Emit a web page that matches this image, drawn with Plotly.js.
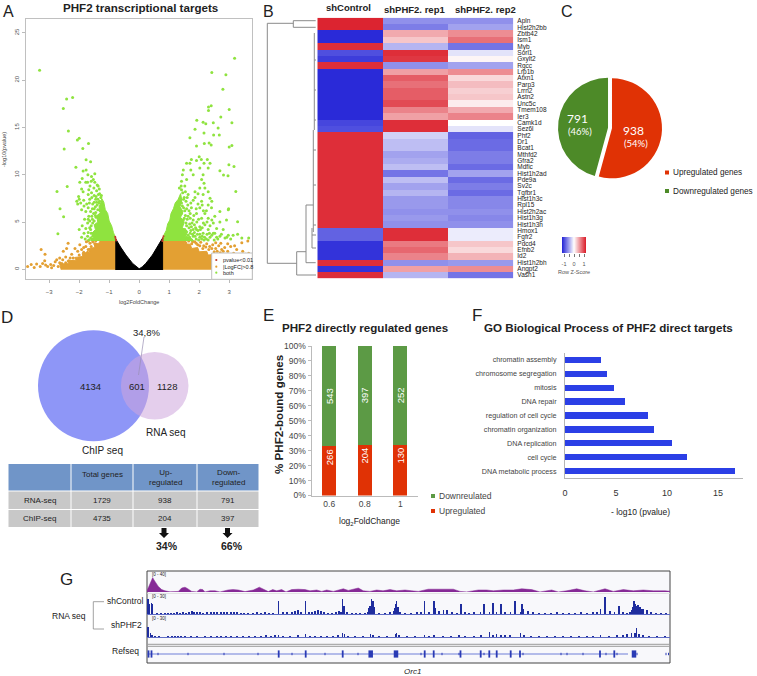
<!DOCTYPE html>
<html>
<head>
<meta charset="utf-8">
<script src="https://cdn.plot.ly/plotly-3.0.1.min.js"></script>
<style>html,body{margin:0;padding:0;background:#fff}</style>
</head>
<body>
<div id="fig" style="width:757px;height:676px"></div>
<script>
// Panel A - volcano
const blackEdge = [[-0.78,-0.08],[-0.78,3.2],[-0.62,2.35],[-0.44,1.5],[-0.22,0.62],[-0.1,0.25],[0,0.05],[0.1,0.25],[0.22,0.62],[0.44,1.5],[0.62,2.4],[0.78,3.3],[0.78,-0.08]];
const redTips = [[-0.79,3.3],[-0.8,3.45],[-0.78,3.15],[-0.77,3.05],[0.79,3.3],[0.81,3.5],[0.78,3.1],[0.77,3.0]];
const orangeLeftDense = [[-0.78,-0.05],[-0.78,3],[-1.3,3],[-1.36,2.7],[-1.5,2.75],[-1.48,2.3],[-1.68,2.2],[-1.65,1.8],[-1.9,1.7],[-1.88,1.35],[-2.15,1.25],[-2.1,0.95],[-2.4,0.9],[-2.35,0.6],[-2.65,0.55],[-2.6,-0.05]];
const orangeRightDense = [[0.78,-0.05],[0.78,3],[1.55,3],[1.5,2.7],[1.7,2.65],[1.75,2.2],[1.95,2.3],[2,1.85],[2.25,1.9],[2.3,1.5],[2.55,1.6],[2.6,1.2],[3,1.1],[3.05,0.7],[3.77,0.6],[3.77,-0.05]];
const greenLeftDense = [[-0.78,3],[-0.8,3.4],[-0.86,3.9],[-0.92,4.6],[-1,5.1],[-1.05,5.9],[-1.13,6.3],[-1.18,7.1],[-1.25,7.5],[-1.28,7],[-1.34,6.6],[-1.3,6],[-1.42,5.6],[-1.38,5],[-1.5,4.7],[-1.46,4.2],[-1.58,3.8],[-1.52,3.4],[-1.62,3]];
const greenRightDense = [[0.78,3],[0.82,3.6],[0.9,4.1],[0.95,4.8],[1.02,5.2],[1.06,5.9],[1.14,6.4],[1.2,7],[1.3,7.4],[1.38,8],[1.42,7.3],[1.36,6.6],[1.46,6.1],[1.38,5.5],[1.5,5],[1.44,4.4],[1.62,4],[1.55,3.5],[1.72,3.3],[1.82,3]];
const greenPts = [[-3.32,21.06],[-2.22,18.16],[-2.42,18],[-2.53,17],[-2.36,14.63],[-2,13.85],[-2.06,13.67],[-1.69,13.3],[-2.5,12.72],[-1.88,12.76],[-2.11,10.78],[-1.77,11.59],[-1.62,11.38],[-2.4,8.76],[-2.74,8.23],[-2.64,6.4],[-2.52,5.55],[-2.71,3.75],
[-1.77,10.5],[-1.87,10.4],[-1.71,10],[-1.48,10.1],[-1.9,9.6],[-1.59,9.8],[-1.98,9.2],[-1.78,9.2],[-1.53,9.5],[-1.48,9.2],[-1.64,8.8],[-1.51,8.6],[-1.37,8.8],[-1.87,8.2],[-1.59,8.1],[-1.42,8.3],[-1.33,8.5],[-1.7,7.9],[-1.5,7.8],[-1.36,7.9],[-1.26,7.8],[-2,7.4],[-1.85,7.3],[-1.65,7.4],[-1.45,7.4],[-1.32,7.2],[-2.05,6.9],[-1.95,7],[-1.75,6.9],[-1.55,6.9],[-1.4,6.8],[-1.25,6.9],[-1.7,6.5],[-1.5,6.4],[-1.62,6.1],[-1.45,6],[-1.3,6.2],[-1.2,6.4],[-1.58,5.6],[-1.44,5.5],[-1.35,5.7],[-1.82,5.3],[-1.65,5.1],[-1.55,4.9],[-1.9,4.6],[-2,4.2],[-1.78,4.3],[-1.65,4.4],[-1.6,3.8],[-1.72,3.5],[-1.8,3.2],[-1.62,3.3],[-1.55,3.5],[-1.6,4.6],[-1.5,5.1],[-1.56,6.4],[-1.66,7],[-1.42,7.1],[-1.58,7.6],
[-1.4,8.9],[-1.32,8],[-1.44,7.7],[-1.28,7.6],[-1.38,7.4],[-1.5,7.1],[-1.34,7],[-1.46,6.6],[-1.38,6.3],[-1.52,5.9],[-1.46,5.7],[-1.56,5.3],[-1.68,5.6],[-1.72,4.9],[-1.62,4.2],[-1.7,3.9],[-1.84,3.8],[-1.92,3.4],[-1.68,3.1],[-1.58,3.15],[-2.02,7.7],[-1.92,8.5],[-1.68,8.4],[-1.72,9.2],[-1.6,9.3],[-1.92,6.3],[-1.84,6.7],[-1.78,6.1],[-1.7,5.3],[-2.08,7.2],
[3.18,22.33],[2.42,20.81],[2.89,20.56],[2.79,19.05],[2.4,17.3],[2.31,17.17],[2.31,16.8],[3,16.9],[2.72,16.1],[1.92,15.76],[1.86,14.8],[2.13,15.55],[2.22,15.4],[2.47,15.5],[3.09,15.5],[2.63,14.95],[2.16,14.4],[2.48,14.2],[2.67,14.2],[1.69,13.9],[2.33,13.36],[2.17,13.3],[2.4,13.15],[1.91,13.04],[3.09,13.1],[3,12.93],[2.99,11.06],[3.16,10.88],[2.69,10.42],[2.81,9.96],[2.96,9.9],[3.22,8.23],[2.98,6.4],[3.28,5.02],
[1.69,11.2],[1.74,11.6],[2,11.9],[1.91,11.5],[2.07,11.6],[2.27,11.6],[2.36,11.2],[2.16,11.2],[1.58,11.2],[1.47,10.5],[1.72,10.5],[2.02,10.7],[2.3,10.7],[1.44,10],[1.8,10],[2.13,10],[1.41,9.3],[1.58,9.5],[2.08,9.5],[2.16,9.1],[2.02,8.6],[2.19,8.6],[1.52,8.8],[1.41,8.4],[1.86,8.2],[2.3,8.2],[2.13,7.9],[1.63,7.9],[2.36,7.5],[1.8,7.3],[2.08,7.2],[2.42,7.2],[2.3,6.8],[1.74,6.5],[2.02,6.5],[2.41,6.5],[2.69,6.1],[2.97,6.3],[1.91,5.9],[2.19,5.9],[2.52,5.6],[1.63,5.6],[1.8,5.2],[2.08,5.4],[2.3,5.4],[2.91,5.2],[2.69,5],[2.47,4.9],[2.02,4.5],[2.19,4.7],[1.74,4.5],[1.91,4.2],[2.3,4.2],[2.58,4.3],[2.47,3.8],[2.8,4.2],[2.97,3.6],[3.13,3.6],[3.28,3.7],[2.69,3.5],[2.13,3.8],[1.52,4.2],[1.63,3.6],[1.8,3.5],[2.02,3.4],[2.36,3.4],[2.58,3.4],[2.86,3.3],[1.41,5.9],[1.41,7],[1.47,5.2],[1.24,6.6],[1.36,7.3],[1.52,6.2],[1.62,6.8],[1.7,5.9],[1.5,7.6],[1.56,4.9],[1.66,4.4],[1.84,3.9],[2.24,3.2],[2.5,3.1],[3.05,3.2],[3.42,3.3],[3.65,3.3],
[1.45,8.1],[1.4,8.8],[1.34,8.6],[1.48,7.4],[1.56,7.2],[1.44,6.7],[1.48,6.5],[1.58,6.4],[1.66,6.2],[1.54,5.7],[1.6,5.3],[1.7,5.4],[1.5,5.4],[1.58,4.6],[1.68,4.8],[1.76,4.9],[1.84,4.7],[1.92,5],[1.98,5.3],[1.72,4.1],[1.8,4.2],[1.88,4.4],[1.96,4.1],[2.04,4.2],[2.1,4.4],[1.7,3.8],[1.78,3.7],[1.86,3.5],[1.94,3.7],[2.02,3.7],[2.1,3.5],[2.18,3.4],[2.26,3.7],[2.34,3.8],[2.42,3.6],[2.52,3.8],[2.62,3.2],[2.74,3.7],[2.92,3.4],[1.9,3.2],[1.98,3.1],[2.08,3.2],[2.16,3.1],[2.3,3.1],[1.75,3.1],[1.6,3.2],[1.68,3.4],[1.82,5.7],[1.9,6.4],[1.96,6.9],[1.86,7.6],[1.96,8],[2.1,6.8],[2.14,6.2],[2.24,6.2],[2.26,5],[2.36,4.6],[2.42,5.2],[2.14,4.9],[1.72,7],[1.6,7.6],[1.54,8.2]];
const orangePts = [[-3.6,0.5],[-3.72,0.3],[-3.42,0.55],[-3.3,0.3],[-3.22,0.6],[-3.15,0.9],[-3.05,0.3],[-2.95,0.5],[-2.85,0.4],[-2.75,1],[-2.65,0.7],[-3.27,2.1],[-3.14,1.6],[-2.37,2.75],[-2.42,2.2],[-2.53,1.9],[-2.14,2.2],[-1.98,2.6],[-1.7,3],[-1.64,2.75],[-1.76,2.9],[-1.55,2.9],[-1.6,2.4],[-1.85,2.3],[-2.05,1.9],[-2.25,1.6],[-2.45,1.3],[-2.65,1.2],[-2.8,0.8],[-2.58,0.6],[-2.7,0.3],[-2.2,1.2],[-2,1.5],[-1.85,1.8],[-1.7,2.1],[-1.48,2.7],[-1.45,3],[-3.5,0.2],[-3.12,0.45],[-2.92,0.15],[-2.35,0.9],[-2.45,0.7],[-1.92,1.2],[-1.72,1.8],[-1.78,2.4],[-1.92,2.1],[-2.3,1.2],[-2.55,1],
[1.35,2.9],[1.45,2.95],[1.55,2.8],[1.65,3],[1.75,2.7],[1.85,2.9],[1.95,2.6],[2.05,2.85],[2.15,2.5],[2.25,2.7],[2.35,2.4],[2.45,2.6],[2.55,2.2],[2.65,2.5],[2.75,2.1],[2.85,2.3],[2.95,1.9],[3.05,2.4],[3.15,1.7],[3.25,2.1],[3.35,1.5],[3.45,1.9],[3.55,1.6],[3.65,1.7],[3.7,0.9],
[1.78,2.95],[1.9,2.75],[2.02,2.5],[2.12,2.2],[2.22,2.35],[2.32,2.1],[2.42,2.2],[2.5,1.85],[2.6,1.9],[2.7,1.75],[2.8,1.9],[2.8,1.4],[2.9,1.5],[3,1.3],[3.1,1.6],[3.2,1.1],[3.3,0.9],[3.4,1.15],[3.52,0.8],[3.62,1.1],[3.18,2.5],[3.42,2.8],[3.62,3],[2.95,2.7],[2.72,2.75],[2.55,2.8]];

// Panel B - heatmap rows
const geneRows = ['Apln','Hist2h2bb','Zbtb42','Ism1','Myb','Sorl1','Gxylt2','Rgcc','Lrp1b','Atxn1','Parp3','Lrrn2','Astn2','Unc5c','Tmem108','Ier3','Camk1d','Sez6l','Phf2','Dr1','Bcat1','Mthfd2','Gfra2','Mdfic','Hist1h2ad','Pde9a','Sv2c','Tgfbr1','Hist1h3c','Rpl15','Hist2h2ac','Hist1h3g','Hist1h3h','Hmox1','Fgfr2','Pdcd4','Efnb2','Id2','Hist1h2bh','Angpt2','Vash1'];
const heatCols = ['shControl','shPHF2. rep1','shPHF2. rep2'];
const ctrlZ = [1.15,1.15,-1.15,-1.15,1.1,-0.95,-1.05,1.1,-1.15,-1.15,-1.15,-1.15,-1.15,-1.15,-1.15,-1.15,-1,-0.95,1.1,1.1,1.1,1.1,1.1,1.1,1.1,1.1,1.1,1.1,1.1,1.1,1.1,1.1,1.1,-0.85,-0.85,-1.1,-1.1,-1.1,1.1,-1.1,1.1];
const rep1Z = [-0.6,-0.7,0.45,0.3,-0.4,1.1,1.05,-0.6,0.5,0.85,0.75,0.85,0.85,0.95,0.65,0.5,1.1,1.1,-0.25,-0.35,-0.35,-0.5,-0.45,-0.35,-0.75,-0.35,-0.5,-0.4,-0.55,-0.55,-0.6,-0.55,-0.6,1.1,1.1,0.7,0.8,0.65,-0.6,0.5,-0.4];
const rep2Z = [-0.6,-0.5,0.6,0.75,-0.75,-0.15,0.05,-0.5,0.6,0.2,0.35,0.25,0.3,0.1,0.45,0.65,0,-0.15,-0.85,-0.8,-0.8,-0.7,-0.7,-0.8,-0.5,-0.8,-0.7,-0.8,-0.65,-0.65,-0.6,-0.65,-0.6,-0.1,-0.1,0.3,0.2,0.4,-0.55,0.6,-0.75];
const keyZ = [-1.15,-1.05,-0.95,-0.85,-0.75,-0.65,-0.55,-0.45,-0.35,-0.25,-0.15,-0.05,0.05,0.15,0.25,0.35,0.45,0.55,0.65,0.75,0.85,0.95,1.05,1.15];
const heatScale = [[0,'#2a2ad8'],[0.5,'#ffffff'],[1,'#dc2430']];
// dendrogram, drawn in its own hidden axis
const dendX = [267.3,293.3,null,293.3,315.7,null,293.3,293.3,null,293.3,315.7,null,267.3,267.3,null,267.3,296.7,null,296.7,296.7,null,296.7,316,null,296.7,306,null,306,306,null,306,315.7,null,306,313.3,null,313.3,313.3,null,314.3,314.3,null,313.3,316,null,313.3,316,null,313.3,316,null,314.3,316,null,314.3,316,null,314.3,316,null,312,316,null,312,312,null,312,316];
const dendY = [23.3,23.3,null,20.7,20.7,null,20.7,27.3,null,27.3,27.3,null,23.3,263.3,null,263.3,263.3,null,251.7,275,null,275,275,null,251.7,251.7,null,205,262.7,null,262.7,262.7,null,205,205,null,130,232,null,33,130,null,150,150,null,185,185,null,225,225,null,60,60,null,90,90,null,120,120,null,235,235,null,228,248,null,248,248];

// Panel C
const pieLabels = ['Upregulated genes','Downregulated genes'];
const pieValues = [938,791];

// Panel D table
const tableHead = ['Total genes','Up-<br>regulated','Down-<br>regulated'];
const tableRows = ['RNA-seq','ChIP-seq'];
const tableTotal = ['1729','4735'];
const tableUp = ['938','204'];
const tableDown = ['791','397'];

// Panel E
const foldCats = ['0.6','0.8','1'];
const upCounts = [266,204,130];
const downCounts = [543,397,252];

// Panel F
const goTerms = ['chromatin assembly','chromosome segregation','mitosis','DNA repair','regulation of cell cycle','chromatin organization','DNA replication','cell cycle','DNA metabolic process'];
const goValues = [3.5,4.1,4.8,5.85,8.15,8.75,10.5,12,16.7];

// Panel G tracks, x runs along the locus
const purpleX = [0,1.7,3,4.7,5.7,7,9,11.3,14.7,18,23,31.3,34.7,38,40.3,44.7,49.7,53,55.7,58,63,68,73,81,86,91.3,98,106.3,112.3,116.3,121.3,125.7,129.7,134.7,139,144.7,151.3,158,163,169.7,174.7,179.7,186.3,196.3,201.3,211.3,216.3,223,229.7,236,243,249.7,258,264.7,271.3,281.3,289.7,298,306.3,313,319.7,331.3,339.7,346.3,356.3,366.3,374.7,384.7,393,404.7,411.3,419.7,429.7,438,446.3,458,466.3,476.3,486.3,496.3,506.3,518,523];
const purpleV = [3,12,22,32,36,30,22,14,6,3,0.5,1.5,10,12,9,1.5,0.3,7,6,0.3,3,3,0.2,5,6,5,1,5,12,8,1,6,3,6,0.3,6,7,6,3,5,1.5,5,1.5,8,4,10,3,1.5,5,3,6,3,5,3,1.5,7,7,6,7,1.5,0.3,5,5,3,5,5,8,6,0.3,5,0.2,3,8,3,0.3,8,1.5,6,3,5,3,3,2];
const blue1X = [1,1.7,2.5,4.5,5,10,14,18,21,24,27,30,33,36,39,42,45,47,50,53,56,60,64,67,70,74,77,80,84,87,90,94,97,101,106,110,114,118,122,126,131.7,136,140,145,148,151,154,158.7,162,165,168,171,174,177,181,185,189,192,194,195.7,197,200,205,209,213,218,221,222,223,224.7,226,227,232,238,243,247,248,248.7,249.7,251,253,258,264,270,274,277.7,282,287,288,292,296.3,300,305,310,314,318,322,327,333.7,337,342.3,346,349.7,354,358,363.7,368,373.7,375,376,381,386,392,398,404,410,416,422,428,434,440,446,450,453.7,458,463,467.3,472,476,480,483,484.7,486,487,488,490,491,493,494,496,500,504,509,514,519];
const blue1H = [25,20,16,19,16,1,1,2,2,2,2,3,2,3,2,3,5,3,4,3,2,4,3,4,3,3,4,3,3,4,3,1,2,1,2,3,2,3,2,2,22,4,4,3,5,6,3,22,4,4,5,6,5,3,2,1,3,5,4,25,14,3,1,2,1,2,4,10,14,25,22,12,2,2,3,5,10,16,22,12,3,2,2,3,3,22,3,21,10,5,7,6,3,2,17,3,2,3,3,16,4,18,3,17,4,3,21,4,16,8,5,3,2,2,2,3,2,2,2,3,2,3,3,8,29,5,3,14,3,2,4,6,12,21,16,14,15,12,8,8,6,4,2,2,2,1];
const blue2X = [1,1.7,3.5,5,8,12,21,25,28,31,34,38,44,50,58,64,70,74,79,84,90,96,102,108,114,119,124,128,131.7,136,143,151,158.7,163,168,174,180,186,191,195.7,197.5,201,208,216,223.7,226,232,240,248.5,249.7,252,260,268,277.7,282,287,296,304,312,318,327,334,342.3,346,349.7,354,358,363,373.7,377,384,392,400,408,416,424,432,440,446,453.7,462,470,476,480,484.7,488,489.5,492,496,502,510,518];
const blue2H = [16,14,7,4,1,1,2,2,2,2,2,2,1,2,1,2,2,2,2,2,1,2,2,1,2,3,2,3,3,2,2,3,5,2,2,2,1,2,3,7,5,1,1,2,5,4,2,1,5,6,4,2,2,4,2,3,2,2,3,2,2,4,8,4,5,3,3,3,7,3,2,2,2,2,1,2,1,2,1,4,2,3,3,5,7,6,15,5,3,2,1,2];
const gapLine = [0,481];
const exonThin = [11,41,77,111,145,178,211,249,274,295,312,337,376,414,420,436,459,490,519,521.5,470];
const exonTall = [1.5,4.5,131.7,158.7,195.7,277.7,286.7,313.5,333.7,342.3,349.7,363.7,373,453,467.3];
const exonWide = [223.7,249,487];

// px helpers, the whole figure is laid out on one 757x676 sheet
const W = 757, H = 676;
const domX = (a, b) => [a / W, b / W];
const domY = (top, bottom) => [1 - bottom / H, 1 - top / H];
const FONT = '"Liberation Sans", Arial, sans-serif';

function note(x, y, text, size, extra) {
    return Object.assign({
        xref: 'paper', yref: 'paper', x: x / W, y: 1 - y / H, text: text,
        showarrow: false, xanchor: 'center', yanchor: 'middle',
        font: {family: FONT, size: size, color: '#222'}
    }, extra || {});
}
function rect(x0, y0, x1, y1, fill, lineCol, layer) {
    return {
        type: 'rect', xref: 'paper', yref: 'paper', x0: x0 / W, x1: x1 / W, y0: 1 - y0 / H, y1: 1 - y1 / H,
        fillcolor: fill, line: {color: lineCol || fill, width: lineCol ? 1 : 0}, layer: layer || 'above'
    };
}
function seg(x0, y0, x1, y1, col, w) {
    return {type: 'line', xref: 'paper', yref: 'paper', x0: x0 / W, x1: x1 / W, y0: 1 - y0 / H, y1: 1 - y1 / H, line: {color: col, width: w}};
}
function circle(cx, cy, r, fill) {
    return {
        type: 'circle', xref: 'paper', yref: 'paper', x0: (cx - r) / W, x1: (cx + r) / W, y0: 1 - (cy + r) / H, y1: 1 - (cy - r) / H,
        fillcolor: fill, line: {width: 0}, layer: 'below'
    };
}
function arrowDown(cx, top, bottom) {
    const p = (x, y) => (x / W) + ',' + (1 - y / H);
    return {
        type: 'path', xref: 'paper', yref: 'paper', fillcolor: '#111', line: {width: 0},
        path: 'M' + p(cx - 2.5, top) + ' L' + p(cx + 2.5, top) + ' L' + p(cx + 2.5, bottom - 5) + ' L' + p(cx + 5, bottom - 5) +
            ' L' + p(cx, bottom) + ' L' + p(cx - 5, bottom - 5) + ' L' + p(cx - 2.5, bottom - 5) + ' Z'
    };
}
const xs = pts => pts.map(p => p[0]);
const ys = pts => pts.map(p => p[1]);
function poly(pts, col, xa, ya) {
    return {x: xs(pts), y: ys(pts), xaxis: xa, yaxis: ya, type: 'scatter', mode: 'lines', fill: 'toself', fillcolor: col, line: {color: col, width: 1}, hoverinfo: 'skip'};
}
function dots(pts, col, size) {
    return {x: xs(pts), y: ys(pts), xaxis: 'x', yaxis: 'y', type: 'scatter', mode: 'markers', marker: {color: col, size: size, line: {width: 0}}, hoverinfo: 'skip'};
}
function sticks(list, half, col, w) {
    const x = [], y = [];
    list.forEach(v => { x.push(v, v, null); y.push(-half, half, null); });
    return {x: x, y: y, xaxis: 'x9', yaxis: 'y9', type: 'scatter', mode: 'lines', line: {color: col, width: w}, hoverinfo: 'skip'};
}
function peaks(x, h, xa, ya) {
    return {x: x, y: h, xaxis: xa, yaxis: ya, type: 'bar', width: 1.4, marker: {color: '#1f2d9e', line: {width: 0}}, hoverinfo: 'skip'};
}

const upShare = upCounts.map((u, i) => 100 * u / (u + downCounts[i]));
const downShare = upCounts.map((u, i) => 100 - upShare[i]);

const traces = [
    // A
    poly(orangeLeftDense, '#e3a033', 'x', 'y'),
    poly(orangeRightDense, '#e3a033', 'x', 'y'),
    dots(orangePts, '#e3a033', 3),
    poly(greenLeftDense, '#8fe33f', 'x', 'y'),
    poly(greenRightDense, '#8fe33f', 'x', 'y'),
    dots(greenPts, '#8fe33f', 3),
    poly(blackEdge, '#000000', 'x', 'y'),
    dots(redTips, '#c0392b', 2),
    // B
    {
        type: 'heatmap', xaxis: 'x2', yaxis: 'y2', x: heatCols, y: geneRows,
        z: geneRows.map((g, i) => [ctrlZ[i], rep1Z[i], rep2Z[i]]),
        colorscale: heatScale, zmin: -1.15, zmax: 1.15, showscale: false, hoverinfo: 'skip'
    },
    {
        type: 'heatmap', xaxis: 'x3', yaxis: 'y3', x: keyZ, y: ['key'], z: [keyZ],
        colorscale: heatScale, zmin: -1.15, zmax: 1.15, showscale: false, hoverinfo: 'skip'
    },
    {x: dendX, y: dendY, xaxis: 'x10', yaxis: 'y10', type: 'scatter', mode: 'lines', line: {color: '#8a8a8a', width: 1}, connectgaps: false, hoverinfo: 'skip'},
    // C
    {
        type: 'pie', labels: pieLabels, values: pieValues, sort: false, direction: 'clockwise', rotation: 0,
        pull: [0.04, 0.04], textinfo: 'none', hoverinfo: 'skip', automargin: false,
        marker: {colors: ['#e03205', '#4d8a28'], line: {width: 0}},
        domain: {x: domX(558, 662), y: domY(76, 180)}
    },
    // E
    {
        type: 'bar', xaxis: 'x4', yaxis: 'y4', x: foldCats, y: upShare, width: 0.4, name: 'Upregulated',
        marker: {color: '#e03205', line: {width: 0}}, text: upCounts.map(String), textposition: 'inside', insidetextanchor: 'end',
        textangle: -90, constraintext: 'none', textfont: {family: FONT, size: 9.5, color: '#ffffff'}, hoverinfo: 'skip'
    },
    {
        type: 'bar', xaxis: 'x4', yaxis: 'y4', x: foldCats, y: downShare, width: 0.4, name: 'Downreulated',
        marker: {color: '#5c9a45', line: {width: 0}}, text: downCounts.map(String), textposition: 'inside', insidetextanchor: 'middle',
        textangle: -90, constraintext: 'none', textfont: {family: FONT, size: 9.5, color: '#ffffff'}, hoverinfo: 'skip'
    },
    // F
    {
        type: 'bar', orientation: 'h', xaxis: 'x5', yaxis: 'y5', x: goValues, y: goTerms, width: 0.44,
        marker: {color: '#2b3fe6', line: {width: 0}}, hoverinfo: 'skip'
    },
    // G
    {x: purpleX, y: purpleV, xaxis: 'x6', yaxis: 'y6', type: 'scatter', mode: 'lines', fill: 'tozeroy', fillcolor: '#862a96', line: {color: '#862a96', width: 0.5}, hoverinfo: 'skip'},
    peaks(blue1X, blue1H, 'x7', 'y7'),
    peaks(blue2X, blue2H, 'x8', 'y8'),
    {x: gapLine, y: [0, 0], xaxis: 'x9', yaxis: 'y9', type: 'scatter', mode: 'lines', line: {color: '#6f7fd8', width: 1}, hoverinfo: 'skip'},
    sticks(exonThin, 1.2, '#2a3bb5', 1),
    sticks(exonTall, 3.6, '#2a3bb5', 1.8),
    sticks(exonWide, 3.6, '#2a3bb5', 4.5)
];

// table in panel D is laid out by hand, the table trace would not keep these row heights
const colEdges = [8, 71, 133, 197, 259];
const rowEdges = [[464, 490.5], [491.5, 509], [510, 527]];
const tableFill = ['#7095c8', '#c8c8c8', '#c8c8c8'];
const tableShapes = [];
rowEdges.forEach((r, i) => {
    colEdges.slice(0, 4).forEach((c, j) => {
        tableShapes.push(rect(c + 0.5, r[0], colEdges[j + 1] - 0.5, r[1], tableFill[i]));
    });
});
const colMid = j => (colEdges[j] + colEdges[j + 1]) / 2;
const tableNotes = [];
tableHead.forEach((t, j) => tableNotes.push(note(colMid(j + 1), j === 0 ? 474 : 478, t, 8)));
tableRows.forEach((t, i) => {
    const y = (rowEdges[i + 1][0] + rowEdges[i + 1][1]) / 2;
    tableNotes.push(note(colMid(0), y, t, 8), note(colMid(1), y, tableTotal[i], 8),
        note(colMid(2), y, tableUp[i], 8), note(colMid(3), y, tableDown[i], 8));
});

const hidden = {visible: false, fixedrange: true};
const greyFont = {family: FONT, size: 6, color: '#555'};
const layout = {
    width: W, height: H, margin: {l: 0, r: 0, t: 0, b: 0}, showlegend: false, barmode: 'stack',
    paper_bgcolor: '#ffffff', plot_bgcolor: 'rgba(0,0,0,0)', font: {family: FONT},
    // A
    xaxis: {domain: domX(25.5, 252.3), range: [-3.79, 3.77], anchor: 'y', tickvals: [-3, -2, -1, 0, 1, 2, 3], ticks: 'outside', ticklen: 3, tickcolor: '#bbb', tickfont: greyFont, showgrid: false, zeroline: false, showline: true, mirror: true, linecolor: '#c0c0c0', ticklabelstandoff: 3},
    yaxis: {domain: domY(18.7, 279.3), range: [-1.06, 26.5], anchor: 'x', tickvals: [0, 5, 10, 15, 20, 25], ticks: 'outside', ticklen: 3, tickcolor: '#bbb', tickangle: -90, tickfont: greyFont, showgrid: false, zeroline: false, showline: true, mirror: true, linecolor: '#c0c0c0'},
    // B
    xaxis2: Object.assign({domain: domX(317.3, 513.3), anchor: 'y2'}, hidden),
    yaxis2: {domain: domY(17.7, 278.3), anchor: 'x2', side: 'right', autorange: 'reversed', tickmode: 'array', tickvals: geneRows, ticktext: geneRows, ticks: '', tickfont: {family: FONT, size: 6.5, color: '#222'}, showgrid: false, zeroline: false, showline: false, ticklabelstandoff: 3},
    xaxis3: {domain: domX(562, 586), anchor: 'y3', range: [-1.2, 1.2], tickmode: 'array', tickvals: [-1, 0, 1], ticktext: ['-1', '0', '1'], ticks: 'outside', ticklen: 3, tickcolor: '#777', minor: {tickmode: 'array', tickvals: [-0.5, 0.5], ticks: 'outside', ticklen: 3, tickcolor: '#777'}, tickfont: {family: FONT, size: 5.5, color: '#555'}, showgrid: false, zeroline: false, showline: false, ticklabelstandoff: 2},
    yaxis3: Object.assign({domain: domY(237, 253), anchor: 'x3'}, hidden),
    xaxis10: Object.assign({domain: domX(262, 317), range: [262, 317], anchor: 'y10'}, hidden),
    yaxis10: Object.assign({domain: domY(18, 278), range: [278, 18], anchor: 'x10'}, hidden),
    // E
    xaxis4: {domain: domX(311.5, 418), anchor: 'y4', type: 'category', range: [-0.5, 2.5], ticks: '', tickfont: {family: FONT, size: 8.5, color: '#444'}, showgrid: false, zeroline: false, showline: true, linecolor: '#bbb'},
    yaxis4: {domain: domY(346, 495.5), anchor: 'x4', range: [0, 100], dtick: 10, ticksuffix: '%', ticks: 'outside', ticklen: 3, tickcolor: '#bbb', tickfont: {family: FONT, size: 8.5, color: '#444'}, showgrid: false, zeroline: false, showline: true, linecolor: '#bbb'},
    // F
    xaxis5: {domain: domX(565, 742.7), anchor: 'y5', range: [0, 17.42], tickvals: [0, 5, 10, 15], ticks: '', tickfont: {family: FONT, size: 9, color: '#333'}, showgrid: false, zeroline: false, showline: true, linecolor: '#b5b5b5', ticklabelstandoff: 6},
    yaxis5: {domain: domY(352.7, 478.3), anchor: 'x5', type: 'category', autorange: 'reversed', ticks: '', tickfont: {family: FONT, size: 7.2, color: '#444'}, showgrid: false, zeroline: false, showline: true, linecolor: '#b5b5b5', ticklabelstandoff: 6},
    // G
    xaxis6: Object.assign({domain: domX(147, 670), range: [0, 523], anchor: 'y6'}, hidden),
    yaxis6: Object.assign({domain: domY(576, 592), range: [0, 40], anchor: 'x6'}, hidden),
    xaxis7: {domain: domX(147, 670), range: [0, 523], anchor: 'y7', showticklabels: false, ticks: '', showgrid: false, zeroline: false, showline: true, linecolor: '#5f6cc4', fixedrange: true},
    yaxis7: Object.assign({domain: domY(596, 614), range: [0, 30], anchor: 'x7'}, hidden),
    xaxis8: {domain: domX(147, 670), range: [0, 523], anchor: 'y8', showticklabels: false, ticks: '', showgrid: false, zeroline: false, showline: true, linecolor: '#5f6cc4', fixedrange: true},
    yaxis8: Object.assign({domain: domY(619, 637), range: [0, 30], anchor: 'x8'}, hidden),
    xaxis9: Object.assign({domain: domX(147, 670), range: [0, 523], anchor: 'y9'}, hidden),
    yaxis9: Object.assign({domain: domY(648, 660), range: [-6, 6], anchor: 'x9'}, hidden),
    shapes: [
        // A legend
        rect(211.7, 253, 252.3, 279.3, '#ffffff', '#c0c0c0'),
        {type: 'circle', xref: 'paper', yref: 'paper', x0: 215.2 / W, x1: 217.4 / W, y0: 1 - 261.1 / H, y1: 1 - 258.9 / H, fillcolor: '#c0392b', line: {width: 0}},
        {type: 'circle', xref: 'paper', yref: 'paper', x0: 215.2 / W, x1: 217.4 / W, y0: 1 - 267.8 / H, y1: 1 - 265.6 / H, fillcolor: '#e3a033', line: {width: 0}},
        {type: 'circle', xref: 'paper', yref: 'paper', x0: 215.2 / W, x1: 217.4 / W, y0: 1 - 273.8 / H, y1: 1 - 271.6 / H, fillcolor: '#8fe33f', line: {width: 0}},
        // C legend
        rect(665, 170.5, 669, 174.5, '#e03205'),
        rect(665, 189, 669, 193, '#4d8a28'),
        // D venn
        circle(93.5, 385.7, 55.5, '#8e96f7'),
        circle(154.7, 385.7, 33.8, 'rgba(205,165,220,0.55)'),
        seg(144, 337, 138.5, 375, '#9a8fb5', 0.7),
        arrowDown(164, 528, 538),
        arrowDown(227.5, 528, 538),
        ...tableShapes,
        // E legend
        rect(431, 494, 435, 498, '#5c9a45'),
        rect(431, 509, 435, 513, '#e03205'),
        // G frame
        rect(147, 571, 670, 663, '#f8f8fb', '#444444', 'below'),
        seg(147, 593.5, 670, 593.5, '#d8d8d8', 0.7),
        seg(147, 644.3, 670, 644.3, '#9a9a9a', 1),
        seg(147, 646.3, 670, 646.3, '#9a9a9a', 1),
        seg(93.3, 601.7, 93.3, 629, '#8a8a8a', 0.8),
        seg(93.3, 601.7, 104, 601.7, '#8a8a8a', 0.8),
        seg(93.3, 629, 104, 629, '#8a8a8a', 0.8)
    ],
    annotations: [
        // panel letters
        note(8, 11, 'A', 16), note(268, 11, 'B', 16), note(567, 11, 'C', 16),
        note(7, 317, 'D', 17), note(268, 316, 'E', 17), note(477, 316, 'F', 17), note(66, 579, 'G', 17),
        // A
        note(140, 8, '<b>PHF2 transcriptional targets</b>', 11.6),
        note(139, 302, 'log2FoldChange', 5.5, {font: {family: FONT, size: 5.5, color: '#444'}}),
        note(4, 150, '-log10(pvalue)', 5.5, {textangle: -90, font: {family: FONT, size: 5.5, color: '#444'}}),
        note(221, 260, 'pvalue<0.01', 5.5, {xanchor: 'left'}),
        note(221, 266.7, '|LogFC|>0.8', 5.5, {xanchor: 'left'}),
        note(221, 272.7, 'both', 5.5, {xanchor: 'left'}),
        // B
        note(348, 8, '<b>shControl</b>', 9.5), note(414.5, 9, '<b>shPHF2. rep1</b>', 9.5), note(485, 9, '<b>shPHF2. rep2</b>', 9.5),
        note(574, 272, 'Row Z-Score', 5.5, {font: {family: FONT, size: 5.5, color: '#555'}}),
        // C
        note(577, 118, '791', 12, {font: {family: 'Lato, sans-serif', size: 12, color: '#fff'}}),
        note(580, 131, '(46%)', 9.5, {font: {family: 'Lato, sans-serif', size: 9.5, color: '#fff'}}),
        note(633, 130, '938', 12, {font: {family: 'Lato, sans-serif', size: 12, color: '#fff'}}),
        note(636, 143, '(54%)', 9.5, {font: {family: 'Lato, sans-serif', size: 9.5, color: '#fff'}}),
        note(671, 172.5, 'Upregulated genes', 8.2, {xanchor: 'left'}),
        note(671, 191, 'Downregulated genes', 8.2, {xanchor: 'left'}),
        // D
        note(90, 386.7, '4134', 9.5), note(137.3, 386.7, '601', 9.5), note(166.7, 386.7, '1128', 9.5),
        note(146, 332, '34,8%', 9.5), note(165, 432.7, 'RNA seq', 10), note(102, 450, 'ChIP seq', 10),
        ...tableNotes,
        note(167, 545.7, '<b>34%</b>', 10.5), note(232, 545.7, '<b>66%</b>', 10.5),
        // E
        note(365, 327, '<b>PHF2 directly regulated genes</b>', 11.6),
        note(278, 415, '<b>% PHF2-bound genes</b>', 11.6, {textangle: -90}),
        note(369, 521, 'log<sub>2</sub>FoldChange', 8.5),
        note(437, 496, 'Downreulated', 8.5, {xanchor: 'left', font: {family: FONT, size: 8.5, color: '#444'}}),
        note(437, 511, 'Upregulated', 8.5, {xanchor: 'left', font: {family: FONT, size: 8.5, color: '#444'}}),
        // F
        note(608, 327, '<b>GO Biological Process of PHF2 direct targets</b>', 11.6),
        note(640, 512, '- log10 (pvalue)', 8.5),
        // G
        note(150, 574, '[0 - 40]', 4.5, {xanchor: 'left'}),
        note(150, 596, '[0 - 30]', 4.5, {xanchor: 'left'}),
        note(150, 618, '[0 - 30]', 4.5, {xanchor: 'left'}),
        note(125, 601, 'shControl', 8.5), note(126, 625, 'shPHF2', 8.5),
        note(69, 616, 'RNA seq', 8.5), note(125, 651, 'Refseq', 8.5),
        note(412, 671, '<i>Orc1</i>', 8)
    ]
};

Plotly.newPlot('fig', traces, layout, {displayModeBar: false, staticPlot: true});
</script>
</body>
</html>
